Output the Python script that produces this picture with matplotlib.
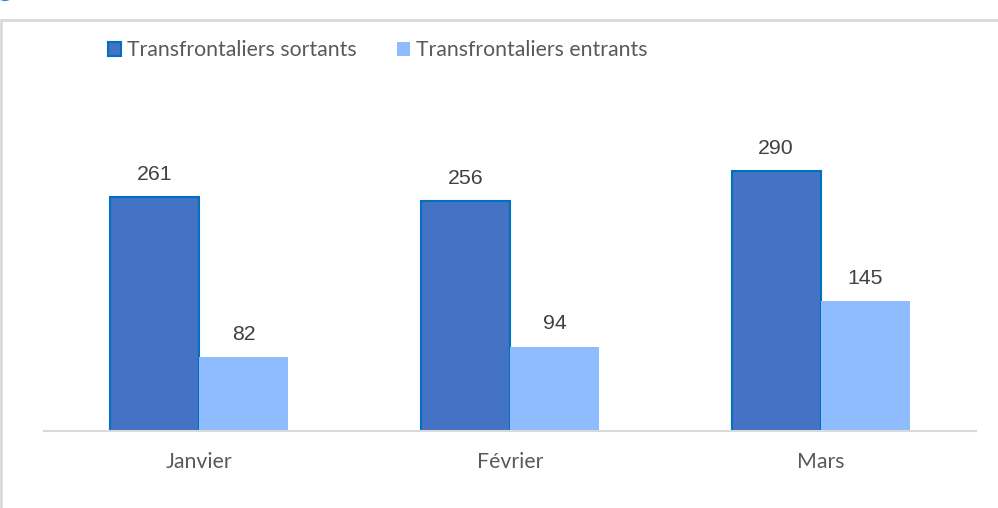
import numpy as np
import matplotlib
matplotlib.use("Agg")
import matplotlib.pyplot as plt
from matplotlib.patches import Rectangle, Circle

mois = ["Janvier", "Février", "Mars"]
sortants = [261, 256, 290]
entrants = [82, 94, 145]
series_labels = ["Transfrontaliers sortants", "Transfrontaliers entrants"]

W, H = 998, 508
fs = 15.3
fig = plt.figure(figsize=(W / 100, H / 100), dpi=100)

# cadre gris et petit point bleu en haut a gauche
fig.patches.append(Rectangle((1 / W, -0.1), 1.2, (H - 20) / H + 0.1, transform=fig.transFigure,
                             fill=False, edgecolor="#D9D9D9", linewidth=2))
fig.patches.append(Circle((5 / W, 1 - (-2) / H), 6 / W, transform=fig.transFigure,
                          facecolor="#2E86DE", edgecolor="none"))

ymax = 350
base_px, px_per_unit = 431, 0.8966
top_px = base_px - ymax * px_per_unit
ax = fig.add_axes([44 / W, 1 - base_px / H, (976 - 44) / W, (base_px - top_px) / H])

x = np.arange(len(mois))
w = 0.287
b1 = ax.bar(x - w / 2, sortants, w, color="#4472C4", edgecolor="#0070C0", linewidth=1.5,
            label=series_labels[0])
b2 = ax.bar(x + w / 2, entrants, w, color="#8FBCFF", edgecolor="none", label=series_labels[1])

for bars, vals in [(b1, sortants), (b2, entrants)]:
    for rect, v in zip(bars, vals):
        ax.text(rect.get_x() + rect.get_width() / 2, v + 15, str(v), ha="center", va="bottom",
                fontsize=fs, color="#404040", family="Liberation Sans")

ax.set_xlim(-0.5, 2.5)
ax.set_ylim(0, ymax)
ax.set_xticks(x)
ax.set_xticklabels(mois, fontsize=fs, color="#595959", family="Lato")
ax.tick_params(axis="x", length=0, pad=15)
ax.set_yticks([])
for s in ["top", "right", "left"]:
    ax.spines[s].set_visible(False)
ax.spines["bottom"].set_color("#D9D9D9")
ax.spines["bottom"].set_linewidth(1.5)

leg = fig.legend(loc="center left", bbox_to_anchor=(108 / W, 1 - 50.5 / H), ncol=2, frameon=False,
                 prop={"family": "Lato", "size": fs}, handlelength=0.62, handleheight=0.62,
                 handletextpad=0.28, columnspacing=1.9, borderaxespad=0, borderpad=0)
for t in leg.get_texts():
    t.set_color("#595959")

fig.savefig("out.png", dpi=100)
